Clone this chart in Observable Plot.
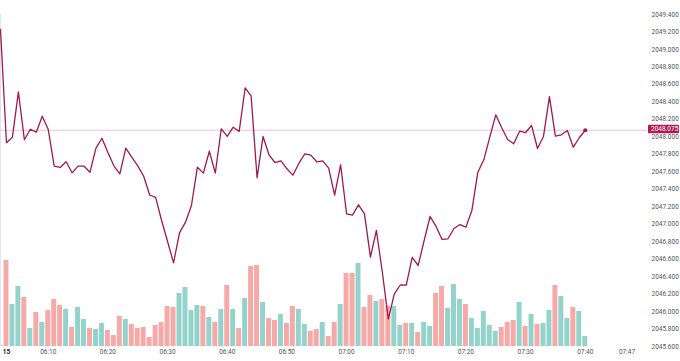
<!DOCTYPE html>
<html><head><meta charset="utf-8">
<script src="https://cdn.jsdelivr.net/npm/d3@7"></script>
<script src="https://cdn.jsdelivr.net/npm/@observablehq/plot@0.6"></script>
<style>
html,body{margin:0;padding:0;background:#fff;}
#wrap{position:relative;width:680px;height:361px;overflow:hidden;font-family:Roboto,"Open Sans",sans-serif;}
#wrap svg{position:absolute;left:0;top:0;background:transparent;}
</style></head><body><div id="wrap"></div>
<script>
// ---- data (one-minute bars, 06:02 -> 07:40) ----
const sessionDate = [2024, 0, 15];
const startClock = "06:02";
const prices = [2049.228,
 2047.932, 2047.996, 2048.515, 2047.966, 2048.087, 2048.053, 2048.236, 2048.084, 2047.664, 2047.649,
 2047.714, 2047.588, 2047.664, 2047.664, 2047.595, 2047.870, 2047.984, 2047.821, 2047.668, 2047.577,
 2047.870, 2047.767, 2047.668, 2047.549, 2047.334, 2047.306, 2047.042, 2046.802, 2046.558, 2046.901,
 2047.023, 2047.214, 2047.652, 2047.584, 2047.835, 2047.584, 2048.092, 2048.004, 2048.110, 2048.061,
 2048.561, 2048.469, 2047.531, 2048.004, 2047.794, 2047.706, 2047.725, 2047.634, 2047.561, 2047.695,
 2047.806, 2047.790, 2047.714, 2047.725, 2047.641, 2047.332, 2047.680, 2047.119, 2047.103, 2047.222,
 2047.119, 2046.622, 2046.928, 2046.447, 2045.913, 2046.203, 2046.304, 2046.302, 2046.619, 2046.527,
 2046.813, 2047.088, 2046.974, 2046.825, 2046.833, 2046.951, 2046.996, 2046.966, 2047.157, 2047.595,
 2047.737, 2047.996, 2048.252, 2048.103, 2047.969, 2047.920, 2048.064, 2048.049, 2048.130, 2047.866,
 2048.004, 2048.461, 2048.007, 2048.023, 2048.072, 2047.881, 2047.989, 2048.075];
const volumes = [1,
 86,42,60,49,18,34,24,36,47,41,
 37,19,39,27,18,17,23,16,11,30,
 27,22,18,19,9,21,24,40,39,53,
 59,36,41,40,29,24,37,61,37,18,
 48,80,81,44,28,26,32,23,40,37,
 22,15,17,24,10,24,42,73,73,83,
 39,51,45,47,40,40,21,23,23,14,
 24,20,53,60,38,62,47,42,28,18,
 35,21,15,19,24,26,44,20,32,22,
 23,36,61,50,28,39,35,10];
const directions = ("G" + "RGGRGRGRRR" + "GRGGRGGRRR" + "GRRRRRRRRG" + "GGGRGRGRGR" + "GRRGRRGRRG" +
  "GRRGRRGRRG" + "RRGRRGGRGR" + "GGRRGGGRGG" + "GGGRRRGRGR" + "GGRGGRGG").split("");
const priceTicks = [2045.6, 2045.8, 2046.0, 2046.2, 2046.4, 2046.6, 2046.8, 2047.0, 2047.2, 2047.4,
  2047.6, 2047.8, 2048.0, 2048.2, 2048.4, 2048.6, 2048.8, 2049.0, 2049.2, 2049.4];
const priceDomain = [2045.6, 2049.4];
const timeTicks = ["06:03", "06:10", "06:20", "06:30", "06:40", "06:50", "07:00", "07:10", "07:20", "07:30", "07:40", "07:47"];
const timeTickLabels = ["15", "06:10", "06:20", "06:30", "06:40", "06:50", "07:00", "07:10", "07:20", "07:30", "07:40", "07:47"];
const timeDomain = ["06:02:00", "07:50:26"];
const lastPriceLabel = "2048.075";

// ---- helpers ----
function at(clock) {
  const [h, m, s] = clock.split(":").map(Number);
  return new Date(Date.UTC(sessionDate[0], sessionDate[1], sessionDate[2], h, m, s || 0));
}
const t0 = at(startClock);
const data = prices.map((p, i) => ({
  time: new Date(+t0 + i * 60000),
  price: p,
  vol: volumes[i],
  dir: directions[i]
}));
const last = data[data.length - 1];
const tickDates = timeTicks.map(at);
const labelMap = new Map(tickDates.map((d, i) => [+d, timeTickLabels[i]]));

const W = 680, H = 361;
const common = {
  width: W, height: H,
  marginLeft: 0, marginRight: 33, marginTop: 14, marginBottom: 15,
  style: {background: "transparent", fontFamily: "Roboto, 'Open Sans', sans-serif"}
};
const xScale = {type: "utc", domain: timeDomain.map(at)};

const lineColor = "#9e1a4f";

const volChart = Plot.plot({
  ...common,
  x: {...xScale, axis: null},
  y: {domain: [0, 332], axis: null},
  marks: [
    Plot.rectY(data, {
      x1: d => new Date(+d.time - 30000),
      x2: d => new Date(+d.time + 30000),
      y: "vol",
      fill: d => d.dir === "G" ? "#94d3cc" : "#f6aaa7",
      insetLeft: 0.5, insetRight: 0.5,
      clip: true
    })
  ]
});

const priceChart = Plot.plot({
  ...common,
  x: {...xScale, label: null},
  y: {domain: priceDomain, label: null},
  marks: [
    Plot.ruleX([timeDomain[0]].map(at), {stroke: "#e3e5ea", strokeWidth: 1}),
    Plot.ruleY([last.price], {stroke: "#e6bccb", strokeWidth: 0.9}),
    Plot.axisY(priceTicks, {
      anchor: "right", tickSize: 0, tickPadding: 4, label: null,
      tickFormat: d => d.toFixed(3), fontSize: 6.5, fill: "#555", textAnchor: "start"
    }),
    Plot.axisX(tickDates, {
      anchor: "bottom", tickSize: 0, tickPadding: 3, label: null,
      tickFormat: d => labelMap.get(+d), fontSize: 6.5, fill: "#555"
    }),
    Plot.line(data, {x: "time", y: "price", stroke: lineColor, strokeWidth: 1.3, clip: true}),
    Plot.dot([last], {x: "time", y: "price", r: 2, fill: lineColor})
  ]
});

const wrap = document.getElementById("wrap");
wrap.appendChild(volChart);
wrap.appendChild(priceChart);

// bold day marker
d3.select(priceChart).selectAll("text").filter(function () { return this.textContent === timeTickLabels[0]; })
  .attr("font-weight", "bold").attr("fill", "#222");

// last price badge on the right axis
const yLast = priceChart.scale("y").apply(last.price);
const xAxisLeft = W - common.marginRight;
const g = d3.select(priceChart).append("g").attr("text-anchor", "start");
g.append("rect").attr("x", xAxisLeft + 1).attr("y", yLast - 5).attr("width", common.marginRight - 2).attr("height", 8.5)
  .attr("fill", "#b01a56").attr("rx", 1);
g.append("text").attr("x", xAxisLeft + 4).attr("y", yLast - 0.6).attr("dy", "0.32em")
  .attr("text-anchor", "start").attr("font-size", 6.5).attr("fill", "#fff").text(lastPriceLabel);
</script></body></html>
